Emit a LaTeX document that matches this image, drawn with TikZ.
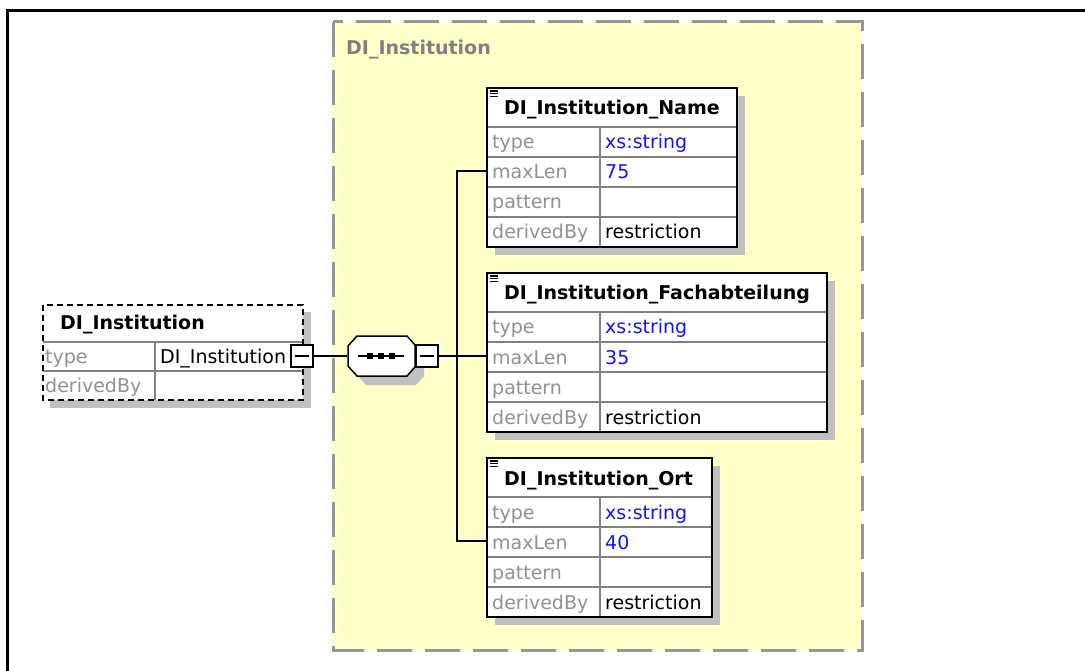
\documentclass[tikz,border=0pt]{standalone}
\usepackage{fontspec}
\setmainfont{DejaVu Sans}
\usepackage{xcolor}
\usepackage{tikz}
\usetikzlibrary{calc, positioning}

\definecolor{groupfill}{RGB}{255,255,200}
\definecolor{groupline}{RGB}{150,150,150}
\definecolor{shadegray}{RGB}{192,192,192}
\definecolor{keygray}{RGB}{145,145,145}
\definecolor{linegray}{RGB}{128,128,128}
\definecolor{valblue}{RGB}{20,20,255}

\tikzset{
  basefont/.style={font=\fontsize{19}{22}\selectfont},
  titletext/.style={basefont, font=\fontsize{19}{22}\selectfont\bfseries, anchor=base west, inner sep=0pt},
  keytext/.style={basefont, text=keygray, anchor=base west, inner sep=0pt},
  valtext/.style={basefont, text=valblue, anchor=base west, inner sep=0pt},
  plaintext/.style={basefont, text=black, anchor=base west, inner sep=0pt},
  rowline/.style={linegray, line width=1.5pt},
  conn/.style={black, line width=1.5pt},
  minusbox/.style={draw=black, line width=2pt, fill=white, minimum size=22pt, inner sep=0pt,
    path picture={\draw[black, line width=1.5pt]
      ([xshift=4pt]path picture bounding box.west) -- ([xshift=-4pt]path picture bounding box.east);}},
  seqbox/.style={inner sep=0pt, minimum width=67pt, minimum height=40pt}
}

% element box: id, x, y, width, title, maxLen
\newcommand{\xsdelem}[6]{%
  \fill[shadegray] ({#2+8},{#3+8}) rectangle ({#2+#4+8},{#3+167});
  \fill[white] (#2,#3) rectangle ({#2+#4},{#3+159});
  \foreach \k in {0,...,3}{
    \draw[rowline] (#2,{#3+39+30*\k}) -- ({#2+#4},{#3+39+30*\k});
  }
  \draw[rowline] ({#2+113},{#3+39}) -- ({#2+113},{#3+159});
  \draw[black, line width=2pt] (#2,#3) rectangle ({#2+#4},{#3+159});
  \foreach \k in {0,1,2}{
    \draw[black, line width=1.3pt] ({#2+3},{#3+3+2.6*\k}) -- ({#2+11},{#3+3+2.6*\k});
  }
  \node[titletext] (#1-title) at ({#2+17},{#3+27}) {#5};
  \node[keytext] (#1-type) at ({#2+5},{#3+61}) {type};
  \node[valtext] (#1-typeval) at ({#2+118},{#3+61}) {xs:string};
  \node[keytext] (#1-max) at ({#2+5},{#3+91}) {maxLen};
  \node[valtext] (#1-maxval) at ({#2+118},{#3+91}) {#6};
  \node[keytext] (#1-pat) at ({#2+5},{#3+121}) {pattern};
  \node[keytext] (#1-der) at ({#2+5},{#3+151}) {derivedBy};
  \node[plaintext] (#1-derval) at ({#2+118},{#3+151}) {restriction};
  \coordinate (#1-len) at (#2,{#3+83});
}

\begin{document}
\begin{tikzpicture}[x=1pt, y=-1pt]
\useasboundingbox (0,0) rectangle (1085,671);
\fill[white] (0,0) rectangle (1085,671);

\draw[black, line width=3pt] (7.5,671) -- (7.5,10.5) -- (1085,10.5);

\fill[groupfill] (333,22) rectangle (862,650);
\draw[groupline, line width=3pt, dash pattern=on 35pt off 13pt] (333,22) rectangle (862,650);
\node[titletext, text=linegray] (grouplabel) at (346,55) {DI\_Institution};

% left complex type box
\fill[shadegray] (50,312) rectangle (311,408);
\fill[white] (43,305) rectangle (303,400);
\draw[rowline] (43,342) -- (303,342);
\draw[rowline] (43,371) -- (303,371);
\draw[rowline] (155,342) -- (155,400);
\draw[black, line width=2pt, dash pattern=on 6pt off 4pt] (43,305) rectangle (303,400);
\node[titletext] (ctitle) at (60,330) {DI\_Institution};
\node[keytext] (ctype) at (45,363.5) {type};
\node[plaintext] (ctypeval) at (160,363.5) {DI\_Institution};
\node[keytext] (cder) at (45,392.5) {derivedBy};
\node[minusbox] (typemin) at (302,356) {};

% sequence compositor
\node[seqbox] (seq) at (381,356) {};
\fill[shadegray, shift={($(seq.center)+(9,9)$)}]
  (-33,-10) -- (-24,-20) -- (26,-20) -- (34,-11) -- (34,11) -- (26,20) -- (-24,20) -- (-33,10) -- cycle;
\draw[black, line width=1.5pt, fill=white, shift={(seq.center)}]
  (-33,-10) -- (-24,-20) -- (26,-20) -- (34,-11) -- (34,11) -- (26,20) -- (-24,20) -- (-33,10) -- cycle;
\draw[black, line width=1.5pt] ($(seq.center)+(-23,0)$) -- ($(seq.center)+(23,0)$);
\foreach \dx in {-11,0,11}{
  \fill[black] ($(seq.center)+(\dx-2.8,-2.8)$) rectangle ($(seq.center)+(\dx+2.8,2.8)$);
}
\node[minusbox] (seqmin) at (427,356) {};

\xsdelem{name}{487}{88}{250}{DI\_Institution\_Name}{75}
\xsdelem{fach}{487}{273}{340}{DI\_Institution\_Fachabteilung}{35}
\xsdelem{ort}{487}{458}{225}{DI\_Institution\_Ort}{40}

\coordinate (trunk) at (457,356);
\draw[conn] (typemin.east) -- (seq.west);
\draw[conn] (seqmin.east) -- (fach-len);
\draw[conn] (name-len) -| (trunk) |- (ort-len);
\end{tikzpicture}
\end{document}
